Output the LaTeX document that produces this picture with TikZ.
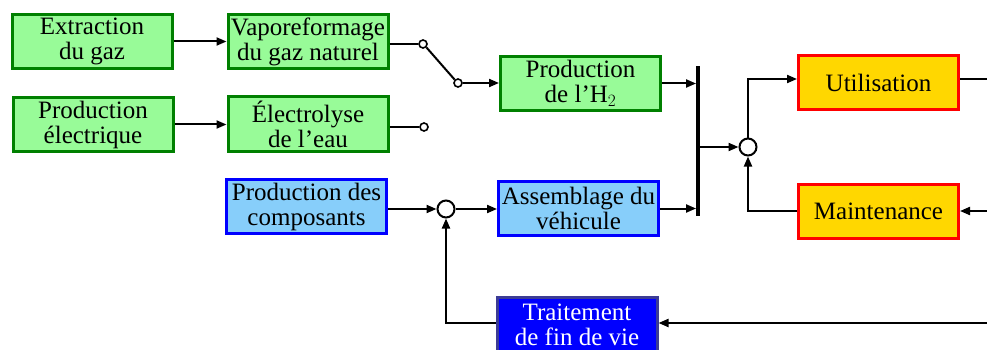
\documentclass[tikz,border=0pt]{standalone}
\usepackage{fontspec}
\setmainfont{Liberation Serif}
\usetikzlibrary{arrows.meta}
\definecolor{vertclair}{RGB}{152,251,152}
\definecolor{vertfonce}{RGB}{0,128,0}
\definecolor{bleuclair}{RGB}{135,206,250}
\definecolor{bleufonce}{RGB}{0,0,255}
\definecolor{bleugris}{RGB}{60,60,150}
\definecolor{jaune}{RGB}{255,215,0}
\definecolor{rouge}{RGB}{255,0,0}

\begin{document}
\begin{tikzpicture}[x=1pt, y=-1pt,
		box/.style = {draw, line width=3pt, minimum width=160pt, minimum height=54pt, inner sep=0pt, align=center, font=\fontsize{25}{25}\selectfont},
		vert/.style = {box, draw=vertfonce, fill=vertclair},
		bleu/.style = {box, draw=bleufonce, fill=bleuclair},
		fin/.style = {box, draw=bleugris, fill=bleufonce, text=white},
		rouge/.style = {box, draw=rouge, fill=jaune},
		fil/.style = {line width=2pt},
		fleche/.style = {fil, -{Triangle[length=10pt, width=8pt]}},
		borne/.style = {circle, draw, line width=1.6pt, fill=white, minimum size=8pt, inner sep=0pt},
		somme/.style = {circle, draw, line width=2pt, fill=white, minimum size=17pt, inner sep=0pt}]
		\useasboundingbox (0,0) rectangle (987,350);
		% sources
		\node [vert] (extraction) at (92,41.5) {Extraction\\du gaz};
		\node [vert] (vapo) at (308,41.5) {Vaporeformage\\du gaz naturel};
		\node [vert] (prodelec) at (93,124.5) {Production\\électrique};
		\node [vert] (electrolyse) at (308,124) {Électrolyse\\de l’eau};
		\node [vert] (prodh) at (580.5,83.5) {Production\\de l’H$_2$};
		\node [bleu] (composants) at (306.5,206.5) {Production des\\composants};
		\node [bleu] (assemblage) at (578.5,208.5) {Assemblage du\\véhicule};
		\node [fin] (traitement) at (577,324.5) {Traitement\\de fin de vie};
		\node [rouge] (utilisation) at (878.5,83) {Utilisation};
		\node [rouge] (maintenance) at (878.5,211) {Maintenance};
		% barre et jonctions
		\node [fill, minimum width=3.5pt, minimum height=150pt, inner sep=0pt] (barre) at (698,141) {};
		\node [somme] (jcomp) at (446,209) {};
		\node [somme] (jvie) at (748,147) {};
		\node [borne] (sa) at (423,44) {};
		\node [borne] (sb) at (458,83) {};
		\node [borne] (sc) at (424,127) {};
		\coordinate (bordu) at (987,79);
		\coordinate (bordm) at (987,211);
		\coordinate (bordt) at (987,323);
		% liaisons
		\draw [fleche] (extraction.east) -- (vapo.west);
		\draw [fleche] (prodelec.east) -- (electrolyse.west |- prodelec.east);
		\draw [fil] (vapo.east |- sa) -- (sa.west);
		\draw [fil] (sa.south east) -- (sb.north west);
		\draw [fleche] (sb.east) -- (prodh.west |- sb);
		\draw [fil] (electrolyse.east |- sc) -- (sc.west);
		\draw [fleche] (prodh.east) -- (barre.west |- prodh.east);
		\draw [fleche] (composants.east |- jcomp) -- (jcomp.west);
		\draw [fleche] (jcomp.east) -- (assemblage.west |- jcomp);
		\draw [fleche] (assemblage.east) -- (barre.west |- assemblage.east);
		\draw [fleche] (barre.east |- jvie) -- (jvie.west);
		\draw [fleche] (jvie.north) |- (utilisation.west |- bordu);
		\draw [fil] (utilisation.east |- bordu) -- (bordu);
		\draw [fleche] (bordm) -- (maintenance.east);
		\draw [fleche] (maintenance.west) -| (jvie.south);
		\draw [fleche] (bordt) -- (traitement.east |- bordt);
		\draw [fleche] (traitement.west |- bordt) -| (jcomp.south);
\end{tikzpicture}
\end{document}
